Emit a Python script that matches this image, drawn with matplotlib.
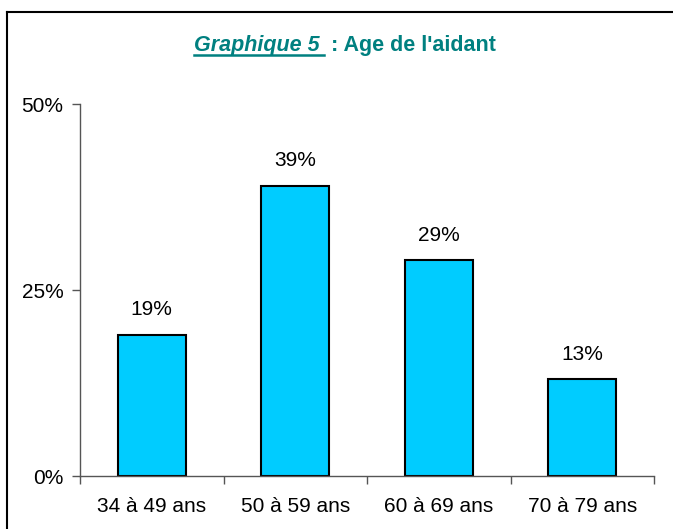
import matplotlib
matplotlib.use("Agg")
import matplotlib.pyplot as plt
from matplotlib.lines import Line2D
from matplotlib.ticker import FixedLocator

categories = ["34 à 49 ans", "50 à 59 ans", "60 à 69 ans", "70 à 79 ans"]
values = [19, 39, 29, 13]
value_labels = ["19%", "39%", "29%", "13%"]
yticks = [0, 25, 50]
ytick_labels = ["0%", "25%", "50%"]

plt.rcParams['font.family'] = ['Liberation Sans', 'DejaVu Sans']

W, H = 673, 529
fig = plt.figure(figsize=(W / 100, H / 100), dpi=100)
ax = fig.add_axes([80 / W, 1 - 476 / H, (654 - 80) / W, (476 - 104) / H])

x = list(range(len(categories)))
ax.bar(x, values, width=0.475, color="#00CCFF", edgecolor="black", linewidth=1.5)
for xi, v, lab in zip(x, values, value_labels):
    ax.annotate(lab, (xi, v), xytext=(0, 18), textcoords="offset points",
                ha="center", va="center", fontsize=15)

ax.set_xlim(-0.5, len(categories) - 0.5)
ax.set_ylim(0, 50)
ax.set_yticks(yticks)
ax.set_yticklabels(ytick_labels, fontsize=15)
ax.set_xticks(x)
ax.set_xticklabels(categories, fontsize=15)
ax.tick_params(axis="x", length=0, pad=15)
ax.xaxis.set_minor_locator(FixedLocator([i - 0.5 for i in range(len(categories) + 1)]))
ax.tick_params(axis="x", which="minor", length=6, width=1, color="#555555")
ax.tick_params(axis="y", length=6, width=1, color="#555555", pad=6)
for s in ["top", "right"]:
    ax.spines[s].set_visible(False)
for s in ["left", "bottom"]:
    ax.spines[s].set_color("#555555")
    ax.spines[s].set_linewidth(1)

# frame lines (left and top, picture is cropped on the other sides)
fig.add_artist(Line2D([7 / W, 7 / W], [0, 1 - 12 / H], transform=fig.transFigure,
                      color="black", lw=1.5))
fig.add_artist(Line2D([7 / W, 1], [1 - 12 / H, 1 - 12 / H], transform=fig.transFigure,
                      color="black", lw=1.5))

# title in two parts, first part underlined
teal = "#008080"
ty = 1 - 46 / H
t1 = fig.text(0.5, ty, "Graphique 5 ", fontsize=15.5, fontweight="bold", fontstyle="italic",
              color=teal, ha="left", va="center")
t2 = fig.text(0.5, ty, " : Age de l'aidant", fontsize=15.5, fontweight="bold",
              color=teal, ha="left", va="center")
fig.canvas.draw()
r = fig.canvas.get_renderer()
b1 = t1.get_window_extent(r)
b2 = t2.get_window_extent(r)
total = b1.width + b2.width
x0 = 345 - total / 2
t1.set_x(x0 / W)
t2.set_x((x0 + b1.width) / W)
uy = (b1.y0 + 1) / H
fig.add_artist(Line2D([x0 / W, (x0 + b1.width - 1) / W], [uy, uy], transform=fig.transFigure,
                      color=teal, lw=1.8))

fig.savefig("out.png", dpi=100)
